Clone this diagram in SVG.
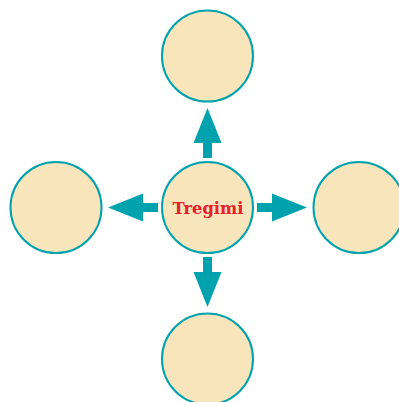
<svg xmlns="http://www.w3.org/2000/svg" width="399" height="402" viewBox="0 0 399 402">
<defs>
<style>
.node circle{fill:#f9e5bb;stroke:#00a3ad;stroke-width:2}
.arr{fill:#00a3ad}
.lbl{font-family:"DejaVu Serif","Liberation Serif",serif;font-weight:bold;font-size:16.5px;fill:#e8202a}
</style>
<polygon id="arrow" class="arr" points="0,-4.5 15,-4.5 15,-14 50,0 15,14 15,4.5 0,4.5"/>
</defs>
<g id="connectors">
<use href="#arrow" transform="translate(257,207.5)"/>
<use href="#arrow" transform="translate(158,207.5) rotate(180)"/>
<use href="#arrow" transform="translate(207.5,158) rotate(-90)"/>
<use href="#arrow" transform="translate(207.5,257) rotate(90)"/>
</g>
<g id="center" class="node"><circle cx="207.5" cy="207.5" r="45.5"/>
<text class="lbl" x="208" y="213.5" text-anchor="middle" textLength="71" lengthAdjust="spacingAndGlyphs">Tregimi</text></g>
<g id="top" class="node"><circle cx="207.5" cy="56" r="45.5"/></g>
<g id="bottom" class="node"><circle cx="207.5" cy="359" r="45.5"/></g>
<g id="left" class="node"><circle cx="56" cy="207.5" r="45.5"/></g>
<g id="right" class="node"><circle cx="359" cy="207.5" r="45.5"/></g>
</svg>
